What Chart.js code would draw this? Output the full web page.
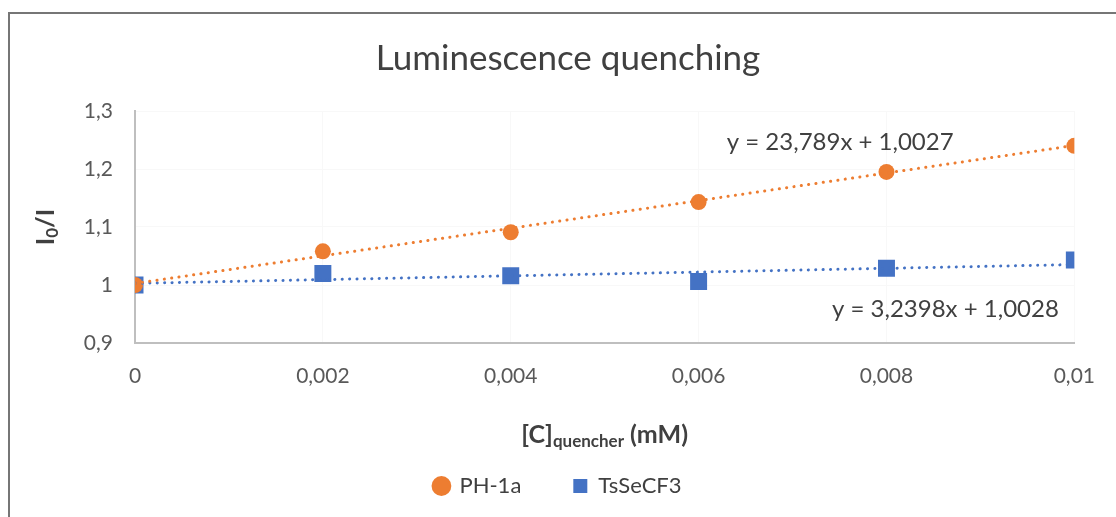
<!DOCTYPE html>
<html>
<head>
<meta charset="utf-8">
<script src="https://cdn.jsdelivr.net/npm/chart.js@4.4.0/dist/chart.umd.min.js"></script>
<style>
  html, body { margin: 0; padding: 0; background: #fff; }
  #wrap { width: 1116px; height: 517px; position: relative; }
</style>
</head>
<body>
<div id="wrap"><canvas id="myChart" width="1116" height="517"></canvas></div>
<script>
const concentrations = [0, 0.002, 0.004, 0.006, 0.008, 0.01];
const ph1a = [1.000, 1.058, 1.091, 1.143, 1.195, 1.240];
const tssecf3 = [1.000, 1.020, 1.016, 1.006, 1.029, 1.043];
const trendX = [0, 0.01];
const ph1aTrend = [1.0027, 1.2406];
const tssecf3Trend = [1.0028, 1.0352];
const equations = ['y = 23,789x + 1,0027', 'y = 3,2398x + 1,0028'];
const xTickLabels = ['0', '0,002', '0,004', '0,006', '0,008', '0,01'];
const yTickLabels = ['0,9', '1', '1,1', '1,2', '1,3'];
const seriesNames = ['PH-1a', 'TsSeCF3'];

const ORANGE = '#ED7D31';
const BLUE = '#4472C4';
const FONT = 'Lato, "Liberation Sans", sans-serif';

function points(xs, ys) {
    var out = [];
    for (var i = 0; i < xs.length; i++) {
        out.push({ x: xs[i], y: ys[i] });
    }
    return out;
}

// border, title, axis titles (with subscripts) and trendline equations
const decorations = {
    id: 'decorations',
    beforeDraw(chart) {
        const ctx = chart.ctx;
        ctx.save();
        ctx.strokeStyle = '#767676';
        ctx.lineWidth = 2;
        ctx.strokeRect(9, 13, 1200, 600);
        ctx.restore();
    },
    afterDraw(chart) {
        const ctx = chart.ctx;
        const area = chart.chartArea;
        const xs = chart.scales.x;
        const ys = chart.scales.y;
        ctx.save();
        ctx.fillStyle = '#404040';
        ctx.textBaseline = 'middle';

        // chart title
        ctx.textAlign = 'center';
        ctx.font = '35px ' + FONT;
        ctx.fillText('Luminescence quenching', 568, 59);

        // y axis title: I0/I
        ctx.save();
        ctx.translate(46, (area.top + area.bottom) / 2);
        ctx.rotate(-Math.PI / 2);
        const big = 'bold 25px ' + FONT;
        const small = 'bold 17px ' + FONT;
        ctx.font = big; var w1 = ctx.measureText('I').width;
        ctx.font = small; var w2 = ctx.measureText('0').width;
        ctx.font = big; var w3 = ctx.measureText('/I').width;
        var sx = -(w1 + w2 + w3) / 2;
        ctx.textAlign = 'left';
        ctx.font = big; ctx.fillText('I', sx, 0);
        ctx.font = small; ctx.fillText('0', sx + w1, 7);
        ctx.font = big; ctx.fillText('/I', sx + w1 + w2, 0);
        ctx.restore();

        // x axis title: [C]quencher (mM)
        ctx.font = big; var a = ctx.measureText('[C]').width;
        ctx.font = small; var b = ctx.measureText('quencher').width;
        ctx.font = big; var c = ctx.measureText(' (mM)').width;
        var tx = (area.left + area.right) / 2 - (a + b + c) / 2;
        var ty = 435;
        ctx.textAlign = 'left';
        ctx.font = big; ctx.fillText('[C]', tx, ty);
        ctx.font = small; ctx.fillText('quencher', tx + a, ty + 7);
        ctx.font = big; ctx.fillText(' (mM)', tx + a + b, ty);

        // trendline equations
        ctx.font = '24px ' + FONT;
        ctx.textAlign = 'left';
        ctx.fillText(equations[0], xs.getPixelForValue(0.0063), ys.getPixelForValue(1.246));
        ctx.fillText(equations[1], xs.getPixelForValue(0.00742), ys.getPixelForValue(0.958));
        ctx.restore();
    }
};

const ctx = document.getElementById('myChart').getContext('2d');
const myChart = new Chart(ctx, {
    type: 'scatter',
    data: {
        datasets: [
            {
                label: 'trend ' + seriesNames[0],
                data: points(trendX, ph1aTrend),
                showLine: true,
                borderColor: ORANGE,
                borderWidth: 3,
                borderDash: [0.1, 7.3],
                borderCapStyle: 'round',
                pointRadius: 0,
                order: 0
            },
            {
                label: 'trend ' + seriesNames[1],
                data: points(trendX, tssecf3Trend),
                showLine: true,
                borderColor: BLUE,
                borderWidth: 3,
                borderDash: [0.1, 7.3],
                borderCapStyle: 'round',
                pointRadius: 0,
                order: 0
            },
            {
                label: seriesNames[0],
                data: points(concentrations, ph1a),
                backgroundColor: ORANGE,
                borderColor: ORANGE,
                pointStyle: 'circle',
                pointRadius: 8,
                pointBorderWidth: 0,
                order: 1
            },
            {
                label: seriesNames[1],
                data: points(concentrations, tssecf3),
                backgroundColor: BLUE,
                borderColor: BLUE,
                pointStyle: 'rect',
                pointRadius: 12,
                pointBorderWidth: 0,
                order: 1
            }
        ]
    },
    options: {
        responsive: false,
        animation: false,
        layout: { padding: { left: 0, right: 0, top: 111, bottom: 10 } },
        plugins: {
            title: { display: false },
            tooltip: { enabled: false },
            legend: {
                position: 'bottom',
                labels: {
                    filter: item => seriesNames.indexOf(item.text) >= 0,
                    usePointStyle: true,
                    boxHeight: 14,
                    boxWidth: 14,
                    padding: 52,
                    color: '#404040',
                    font: { family: FONT, size: 22 }
                }
            }
        },
        scales: {
            x: {
                type: 'linear',
                position: 'bottom',
                min: 0,
                max: 0.01,
                afterFit: s => { s.height = 80; },
                ticks: {
                    stepSize: 0.002,
                    padding: 21,
                    color: '#595959',
                    font: { family: FONT, size: 21 },
                    callback: (v, i) => xTickLabels[i]
                },
                grid: { color: '#f8f8f8', drawTicks: false },
                border: { color: '#bfbfbf', width: 2 }
            },
            y: {
                type: 'linear',
                position: 'left',
                min: 0.9,
                max: 1.3,
                afterFit: s => { s.width = 135; },
                ticks: {
                    stepSize: 0.1,
                    padding: 22,
                    color: '#595959',
                    font: { family: FONT, size: 21 },
                    callback: (v, i) => yTickLabels[i]
                },
                grid: { color: '#f8f8f8', drawTicks: false },
                border: { color: '#bfbfbf', width: 2 }
            },
            // empty right-hand margin so the legend centres on the full width
            yRight: {
                type: 'linear',
                position: 'right',
                min: 0.9,
                max: 1.3,
                afterFit: s => { s.width = 39; },
                ticks: { display: false },
                grid: { display: false },
                border: { display: false }
            }
        }
    },
    plugins: [decorations]
});
</script>
</body>
</html>
